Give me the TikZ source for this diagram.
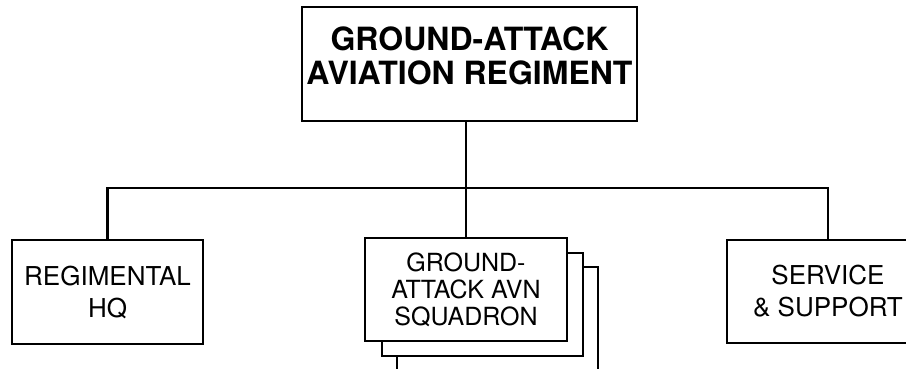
\documentclass[tikz,border=0pt]{standalone}
\usepackage{fontspec}
\setmainfont{TeX Gyre Heros}
\begin{document}
\begin{tikzpicture}[x=1pt, y=-1pt, line width=2.8pt,
  unit/.style={draw, fill=white, align=center, inner sep=0pt, font=\fontsize{26}{32}\selectfont},
  hq/.style={unit, font=\fontsize{32}{34}\bfseries\selectfont}]
\useasboundingbox (0,0) rectangle (906,368);
% regiment
\node[hq, minimum width=335pt, minimum height=114pt, text depth=16pt] (rgt) at (469.5,64) {GROUND-ATTACK\\AVIATION REGIMENT};
% subordinate units
\node[unit, minimum width=191pt, minimum height=104pt] (hqs) at (107.5,292) {REGIMENTAL\\HQ};
\node[unit, minimum width=201pt, minimum height=103pt] (sqn3) at (497.5,318.5) {};
\node[unit, minimum width=201pt, minimum height=103pt] (sqn2) at (482.5,304.5) {};
\node[unit, minimum width=202pt, minimum height=103pt, font=\fontsize{25}{27}\selectfont] (sqn) at (466,289.5) {GROUND-\\ATTACK AVN\\SQUADRON};
\node[unit, minimum width=202pt, minimum height=103pt] (svc) at (828,291.5) {SERVICE\\\& SUPPORT};
% connectors
\coordinate (bus) at (466,188);
\draw (sqn.north |- rgt.south) -- (sqn.north);
\draw (hqs.north) |- (bus) -| (svc.north);
\end{tikzpicture}
\end{document}
